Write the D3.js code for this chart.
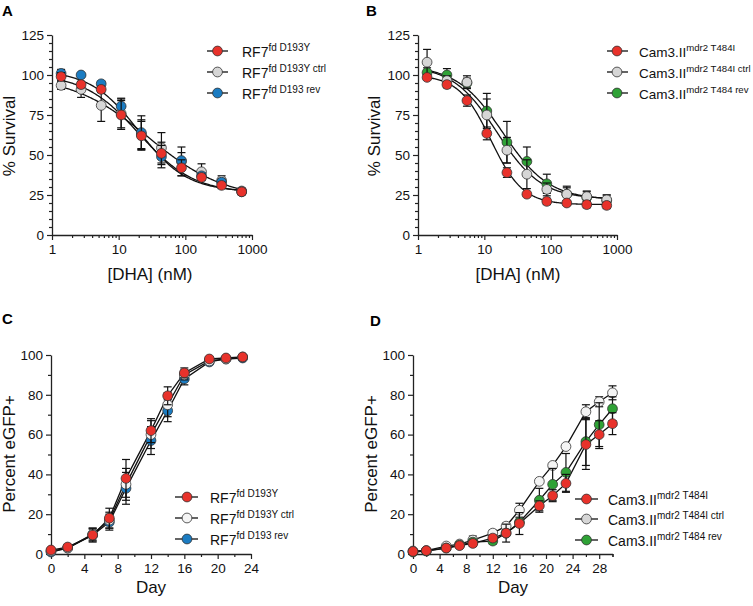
<!DOCTYPE html>
<html><head><meta charset="utf-8">
<script src="https://cdn.jsdelivr.net/npm/d3@7"></script>
<style>body{margin:0;background:#fff}svg text{font-family:"Liberation Sans",Arial,sans-serif;fill:#111}</style>
</head><body><svg id="chart" width="753" height="606"></svg>
<script>
// ---------- DATA ----------
const conc = [1.37, 2.73, 5.47, 10.9, 21.9, 43.8, 87.5, 175, 350, 700];
const concTicks = [1, 10, 100, 1000];
const survTicks = [0, 25, 50, 75, 100, 125];

const aRed = [99, 94, 91, 75, 62, 51, 42, 36, 31, 27];
const aRedErr = [2.5, 2, 2, 9, 9, 7, 5, 2, 2, 2];
const aCtrl = [93.5, 91, 81, 76, 63, 54.5, 46, 39.5, 34, 27.5];
const aCtrlErr = [2.5, 5, 10, 9, 9, 9.5, 9, 5, 3, 2];
const aRev = [101, 100, 94.5, 80.5, 64, 49, 46.5, 37, 33, 27];
const aRevErr = [2.5, 1, 1.5, 5, 10.5, 7, 5, 2, 2, 1.5];
// fitted 4PL parameters: [bottom, top, EC50, hill]
const aRedFit = [26, 101, 20, 1.05];
const aCtrlFit = [22, 100, 28, 0.75];
const aRevFit = [27, 103, 20, 1.2];

const bRed = [98.5, 94, 84, 63.5, 39, 25.5, 21, 20, 19, 18.5];
const bRedErr = [1.5, 2, 3.5, 4, 3, 1, 2, 1.5, 2, 2];
const bCtrl = [108, 96.5, 95.5, 75, 53, 38, 28.5, 25.5, 24, 22];
const bCtrlErr = [8, 3, 4, 10, 8, 9, 4, 5, 3, 3];
const bRev = [101.5, 100, 95, 77.5, 58, 46, 32, 25.5, 23.5, 21.5];
const bRevErr = [3, 4, 3, 11, 13, 9, 6, 4, 4, 3.5];
const bRedFit = [19, 100, 12.5, 1.8];
const bCtrlFit = [22.5, 106, 15.5, 1.3];
const bRevFit = [22, 106, 19, 1.25];

const dayTicksC = [0, 4, 8, 12, 16, 20, 24];
const pctTicks = [0, 20, 40, 60, 80, 100];
const daysC = [0, 2, 5, 7, 9, 12, 14, 16, 19, 21, 23];
const cRed = [2, 3.5, 9.5, 18, 38, 62, 79.5, 91, 98, 98.5, 99];
const cRedErr = [0.8, 0.8, 3.5, 5, 9.5, 6, 4.5, 2.5, 1, 1, 1];
const cCtrl = [1.5, 3, 10, 17, 35, 60, 75, 90, 97, 98, 99];
const cCtrlErr = [0.8, 0.8, 3, 4, 8, 7, 6, 2.5, 1, 1, 1];
const cRev = [1, 3, 9.5, 16, 33, 57, 72, 88, 96.5, 98, 98.5];
const cRevErr = [0.8, 0.8, 3, 4, 8, 7, 5.5, 3, 1, 1, 1];

const dayTicksD = [0, 4, 8, 12, 16, 20, 24, 28];
const daysD = [0, 2, 5, 7, 9, 12, 14, 16, 19, 21, 23, 26, 28, 30];
const dRed = [1.3, 1.7, 3, 4.2, 5.3, 8, 10.5, 15.3, 24.2, 29.3, 35.5, 55, 60, 65.5];
const dRedErr = [0.3, 0.3, 1, 1, 1.5, 1.5, 4.5, 5.5, 2.5, 3, 4.5, 12.5, 7, 5.5];
const dCtrl = [1.5, 1.7, 4, 5, 7, 10.5, 14, 22, 36.5, 44.5, 54, 71.5, 76.5, 81];
const dCtrlErr = [0.3, 0.3, 1, 1, 2, 1.5, 1.5, 3.5, 1, 1, 1, 3.5, 2.5, 3.5];
const dRev = [1, 1.5, 3, 4.5, 6, 6.5, 10.5, 16, 27, 35, 41, 56.5, 65, 73];
const dRevErr = [0.3, 0.3, 1, 1, 1.5, 1.5, 1.5, 1.5, 6, 8, 9.5, 12, 11, 6];

const RED = "#e8322b", BLUE = "#1b7cc2", GREEN = "#2fa236", GREY = "#d6d6d6", WHITE = "#f4f4f4";

// ---------- DRAWING ----------
const svg = d3.select("#chart");
const R = 4.9;

function yAxis(g, y, major, minorStep, x0) {
  const [lo, hi] = y.domain();
  const minor = d3.range(lo, hi + 0.001, minorStep).filter(v => !major.includes(v));
  g.append("g").attr("transform", `translate(${x0},0)`)
    .call(d3.axisLeft(y).tickValues(minor).tickSize(3).tickFormat("").tickSizeOuter(0))
    .call(s => s.select(".domain").remove());
  const ax = g.append("g").attr("transform", `translate(${x0},0)`)
    .call(d3.axisLeft(y).tickValues(major).tickSize(5).tickSizeOuter(0).tickPadding(3));
  ax.selectAll("text").style("font-size", "13.5px");
  g.selectAll(".tick line").attr("stroke", "#222").attr("stroke-width", 1.2);
  ax.select(".domain").attr("stroke", "#222").attr("stroke-width", 1.3);
}
function xAxis(g, x, major, minor, y0) {
  g.append("g").attr("transform", `translate(0,${y0})`)
    .call(d3.axisBottom(x).tickValues(minor).tickSize(3).tickFormat("").tickSizeOuter(0))
    .call(s => s.select(".domain").remove());
  const ax = g.append("g").attr("transform", `translate(0,${y0})`)
    .call(d3.axisBottom(x).tickValues(major).tickSize(5).tickSizeOuter(0).tickPadding(4).tickFormat(d3.format("d")));
  ax.selectAll("text").style("font-size", "13.5px");
  g.selectAll(".tick line").attr("stroke", "#222").attr("stroke-width", 1.2);
  ax.select(".domain").attr("stroke", "#222").attr("stroke-width", 1.3);
}
function errBars(g, x, y, xs, vals, errs) {
  const eg = g.append("g").attr("stroke", "#111").attr("stroke-width", 1.2).attr("fill", "none");
  xs.forEach((xv, i) => {
    const cx = x(xv), t = y(vals[i] + errs[i]), b = y(vals[i] - errs[i]);
    eg.append("line").attr("x1", cx).attr("x2", cx).attr("y1", t).attr("y2", b);
    eg.append("line").attr("x1", cx - 4).attr("x2", cx + 4).attr("y1", t).attr("y2", t);
    eg.append("line").attr("x1", cx - 4).attr("x2", cx + 4).attr("y1", b).attr("y2", b);
  });
}
function markers(g, x, y, xs, vals, color) {
  g.append("g").selectAll("circle").data(xs).join("circle")
    .attr("cx", d => x(d)).attr("cy", (d, i) => y(vals[i])).attr("r", R)
    .attr("fill", color).attr("stroke", "#333").attr("stroke-width", 0.8);
}
function fitCurve(g, x, y, p) {
  const [bot, top, ec, h] = p;
  const l0 = Math.log10(conc[0]), l1 = Math.log10(conc[conc.length - 1]);
  const xsamp = d3.range(0, 201).map(i => Math.pow(10, l0 + i / 200 * (l1 - l0)));
  g.append("path").datum(xsamp)
    .attr("d", d3.line().x(d => x(d)).y(d => y(bot + (top - bot) / (1 + Math.pow(d / ec, h)))))
    .attr("fill", "none").attr("stroke", "#111").attr("stroke-width", 1.3);
}
function connLine(g, x, y, xs, vals) {
  g.append("path").datum(xs)
    .attr("d", d3.line().x(d => x(d)).y((d, i) => y(vals[i])))
    .attr("fill", "none").attr("stroke", "#111").attr("stroke-width", 1.3);
}
function legend(g, x0, x1, xm, xt, rows, labels, colors, mainSize, supSize) {
  rows.forEach((ry, i) => {
    g.append("line").attr("x1", x0).attr("x2", x1).attr("y1", ry).attr("y2", ry).attr("stroke", "#111").attr("stroke-width", 1.3);
    g.append("circle").attr("cx", xm).attr("cy", ry).attr("r", R).attr("fill", colors[i]).attr("stroke", "#333").attr("stroke-width", 0.8);
    const t = g.append("text").attr("x", xt).attr("y", ry + 5.5).style("font-size", mainSize + "px").text(labels[i][0]);
    t.append("tspan").attr("dy", -6).style("font-size", supSize + "px").text(labels[i][1]);
  });
}
function titleX(g, cx, y, s) { g.append("text").attr("x", cx).attr("y", y).attr("text-anchor", "middle").style("font-size", "17px").text(s); }
function titleY(g, x, cy, s) { g.append("text").attr("transform", `translate(${x},${cy}) rotate(-90)`).attr("text-anchor", "middle").style("font-size", "17px").text(s); }
function panelLabel(x, y, s) { svg.append("text").attr("x", x).attr("y", y).style("font-size", "15px").style("font-weight", "bold").style("fill", "#000").text(s); }

const logMinor = [2,3,4,5,6,7,8,9,20,30,40,50,60,70,80,90,200,300,400,500,600,700,800,900];

// Panel A
{
  const g = svg.append("g");
  const x = d3.scaleLog().domain([1, 1000]).range([52, 252]);
  const y = d3.scaleLinear().domain([0, 125]).range([235, 35]);
  yAxis(g, y, survTicks, 5, 52);
  xAxis(g, x, concTicks, logMinor, 235);
  titleY(g, 15, 136, "% Survival");
  titleX(g, 150, 280, "[DHA] (nM)");
  [aCtrlFit, aRevFit, aRedFit].forEach(p => fitCurve(g, x, y, p));
  errBars(g, x, y, conc, aCtrl, aCtrlErr); markers(g, x, y, conc, aCtrl, GREY);
  errBars(g, x, y, conc, aRev, aRevErr); markers(g, x, y, conc, aRev, BLUE);
  errBars(g, x, y, conc, aRed, aRedErr); markers(g, x, y, conc, aRed, RED);
  legend(g, 207, 228, 217.5, 242, [51, 72, 93],
    [["RF7", "fd D193Y"], ["RF7", "fd D193Y ctrl"], ["RF7", "fd D193 rev"]], [RED, GREY, BLUE], 14, 10);
}
// Panel B
{
  const g = svg.append("g");
  const x = d3.scaleLog().domain([1, 1000]).range([418, 617]);
  const y = d3.scaleLinear().domain([0, 125]).range([235, 35]);
  yAxis(g, y, survTicks, 5, 418);
  xAxis(g, x, concTicks, logMinor, 235);
  titleY(g, 380, 136, "% Survival");
  titleX(g, 518, 280, "[DHA] (nM)");
  [bRevFit, bCtrlFit, bRedFit].forEach(p => fitCurve(g, x, y, p));
  errBars(g, x, y, conc, bRev, bRevErr); markers(g, x, y, conc, bRev, GREEN);
  errBars(g, x, y, conc, bCtrl, bCtrlErr); markers(g, x, y, conc, bCtrl, GREY);
  errBars(g, x, y, conc, bRed, bRedErr); markers(g, x, y, conc, bRed, RED);
  legend(g, 607, 628, 617, 639, [51, 72, 93],
    [["Cam3.II", "mdr2 T484I"], ["Cam3.II", "mdr2 T484I ctrl"], ["Cam3.II", "mdr2 T484 rev"]], [RED, GREY, GREEN], 13.5, 9.6);
}
// Panel C
{
  const g = svg.append("g");
  const x = d3.scaleLinear().domain([0, 24]).range([51, 251]);
  const y = d3.scaleLinear().domain([0, 100]).range([554, 355]);
  yAxis(g, y, pctTicks, 10, 51);
  xAxis(g, x, dayTicksC, d3.range(2, 24, 4), 554);
  titleY(g, 15, 454, "Percent eGFP+");
  titleX(g, 151, 593, "Day");
  connLine(g, x, y, daysC, cRev); connLine(g, x, y, daysC, cCtrl); connLine(g, x, y, daysC, cRed);
  errBars(g, x, y, daysC, cRev, cRevErr); markers(g, x, y, daysC, cRev, BLUE);
  errBars(g, x, y, daysC, cCtrl, cCtrlErr); markers(g, x, y, daysC, cCtrl, WHITE);
  errBars(g, x, y, daysC, cRed, cRedErr); markers(g, x, y, daysC, cRed, RED);
  legend(g, 175, 198, 187, 210, [497, 518, 539],
    [["RF7", "fd D193Y"], ["RF7", "fd D193Y ctrl"], ["RF7", "fd D193 rev"]], [RED, WHITE, BLUE], 14, 10);
}
// Panel D
{
  const g = svg.append("g");
  const x = d3.scaleLinear().domain([0, 30]).range([413, 612.5]);
  const y = d3.scaleLinear().domain([0, 100]).range([554, 355]);
  yAxis(g, y, pctTicks, 10, 413);
  xAxis(g, x, dayTicksD, d3.range(2, 31, 4).concat([30]), 554);
  titleY(g, 377, 454, "Percent eGFP+");
  titleX(g, 513, 593, "Day");
  connLine(g, x, y, daysD, dCtrl); connLine(g, x, y, daysD, dRev); connLine(g, x, y, daysD, dRed);
  errBars(g, x, y, daysD, dCtrl, dCtrlErr); markers(g, x, y, daysD, dCtrl, WHITE);
  errBars(g, x, y, daysD, dRev, dRevErr); markers(g, x, y, daysD, dRev, GREEN);
  errBars(g, x, y, daysD, dRed, dRedErr); markers(g, x, y, daysD, dRed, RED);
  legend(g, 575, 598, 586.5, 608, [499, 519, 540],
    [["Cam3.II", "mdr2 T484I"], ["Cam3.II", "mdr2 T484I ctrl"], ["Cam3.II", "mdr2 T484 rev"]], [RED, GREY, GREEN], 14, 10);
}
panelLabel(2, 16, "A");
panelLabel(366, 16, "B");
panelLabel(2, 324, "C");
panelLabel(370, 326, "D");
</script></body></html>
